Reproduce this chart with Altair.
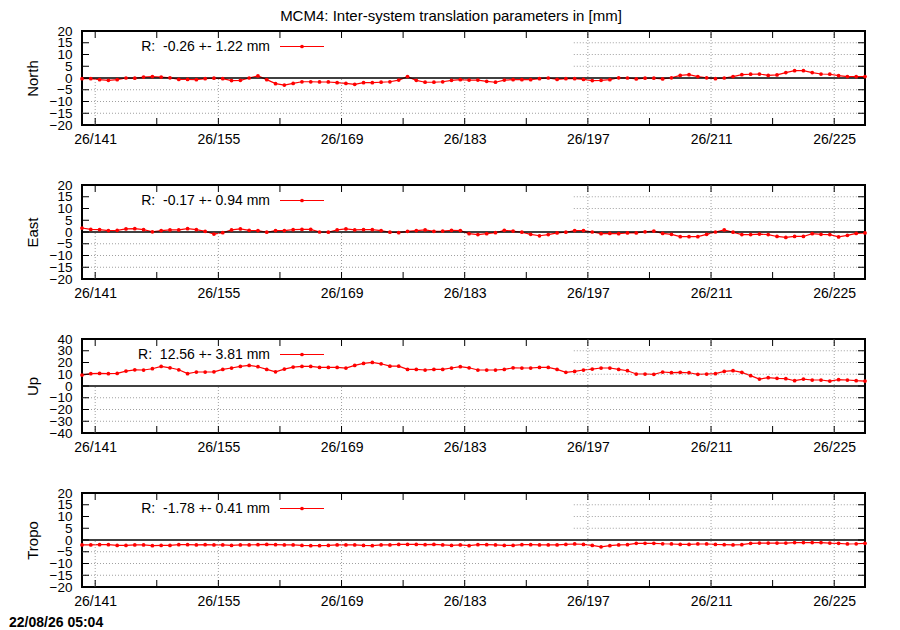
import altair as alt
import pandas as pd

# daily solutions, epoch at noon of each day of year
DOY = [139.5 + i for i in range(90)]

NORTH = [-0.3, -0.3, -0.7, -1.0, -0.7, 0.0, -0.1, 0.4, 0.6, 0.4,
         0.1, -0.6, -0.6, -0.7, -0.3, -0.1, -0.3, -1.1, -1.0, 0.0,
         0.9, -0.7, -2.4, -3.0, -2.3, -1.6, -1.6, -1.7, -1.7, -2.0,
         -2.3, -2.7, -2.0, -2.0, -1.8, -1.6, -0.9, 0.6, -1.0, -1.8,
         -1.8, -1.6, -1.0, -0.7, -0.9, -0.9, -1.4, -1.8, -0.9, -0.7,
         -0.7, -0.7, -0.3, 0.0, -0.6, -0.3, -0.3, -0.6, -1.1, -1.0,
         -0.7, 0.1, 0.0, -0.4, -0.1, -0.1, -0.4, 0.1, 1.1, 1.4,
         0.6, 0.1, -0.3, 0.0, 0.6, 1.4, 1.6, 1.7, 1.1, 1.3,
         2.3, 3.1, 3.1, 2.3, 1.7, 1.6, 1.0, 0.6, 0.6, 0.6]

EAST = [1.7, 1.1, 1.0, 0.6, 0.7, 1.3, 1.4, 1.0, 0.1, 0.6,
        0.9, 0.9, 1.4, 1.0, 0.3, -0.9, -0.3, 0.9, 1.3, 0.7,
        0.6, -0.1, 0.6, 0.6, 1.0, 1.1, 1.1, 0.0, -0.1, 0.9,
        1.3, 0.9, 1.0, 1.0, 0.6, -0.1, -0.3, 0.3, 0.6, 0.9,
        0.3, 0.4, 0.7, 0.6, -0.7, -1.1, -0.7, -0.3, 0.7, 0.4,
        -0.1, -1.0, -1.6, -1.1, -0.4, -0.1, 0.6, 0.6, 0.0, -0.7,
        -0.6, -0.7, -0.4, -0.4, 0.1, 0.4, -0.6, -1.0, -2.0, -2.0,
        -2.0, -1.0, 0.0, 0.9, -0.1, -1.1, -1.1, -0.9, -1.1, -1.9,
        -2.3, -1.9, -1.9, -0.7, -1.0, -1.1, -2.1, -1.4, -0.6, -0.4]

UP = [9.3, 10.5, 10.7, 10.5, 10.7, 12.7, 13.8, 13.6, 14.7, 16.7,
      15.5, 13.8, 10.5, 11.9, 11.9, 12.1, 14.1, 15.3, 16.7, 17.5,
      16.4, 14.1, 12.1, 14.4, 16.1, 16.7, 16.7, 15.8, 15.8, 15.8,
      15.3, 17.5, 19.2, 20.1, 18.9, 16.9, 16.9, 14.1, 14.1, 13.6,
      14.1, 14.1, 15.3, 16.4, 15.5, 13.6, 13.6, 13.6, 14.1, 15.5,
      15.3, 15.3, 15.8, 15.8, 14.1, 11.6, 12.4, 13.6, 14.4, 15.3,
      15.3, 14.1, 13.0, 10.2, 10.2, 9.9, 11.9, 11.3, 11.6, 11.3,
      9.9, 10.2, 10.5, 12.4, 13.0, 11.6, 8.8, 5.9, 7.1, 6.5,
      6.2, 4.5, 5.9, 5.1, 5.1, 4.2, 5.4, 5.1, 4.5, 4.2]

TROPO = [-2.1, -2.1, -2.0, -2.0, -2.3, -2.3, -2.1, -2.1, -2.4, -2.3,
         -2.3, -2.0, -2.0, -2.1, -2.0, -2.1, -2.1, -2.3, -2.1, -2.1,
         -2.0, -1.9, -2.0, -2.1, -2.1, -2.3, -2.4, -2.4, -2.3, -2.1,
         -2.1, -2.1, -2.3, -2.4, -2.1, -2.1, -1.9, -1.9, -1.9, -2.0,
         -1.9, -2.1, -2.3, -2.1, -2.4, -2.0, -2.0, -2.1, -2.3, -2.3,
         -2.0, -2.0, -2.1, -2.1, -2.1, -1.9, -1.7, -1.9, -2.3, -2.9,
         -2.4, -2.1, -2.0, -1.4, -1.4, -1.4, -1.6, -1.7, -1.9, -1.9,
         -1.7, -1.7, -1.9, -2.0, -2.1, -2.0, -1.4, -1.3, -1.3, -1.3,
         -1.3, -1.1, -1.1, -1.1, -1.1, -1.3, -1.4, -1.7, -1.6, -1.4]

PANELS = ["North", "East", "Up", "Tropo"]
SERIES = [NORTH, EAST, UP, TROPO]
LEGENDS = ["R:\u00a0 -0.26 +- 1.22 mm", "R:\u00a0 -0.17 +- 0.94 mm",
           "R:\u00a0 12.56 +- 3.81 mm", "R:\u00a0 -1.78 +- 0.41 mm"]
YLIMS = [20, 20, 40, 20]
YSTEPS = [5, 5, 10, 5]

TITLE = "MCM4: Inter-system translation parameters in [mm]"
STAMP = "22/08/26 05:04"

MAJOR = list(range(141, 226, 14))
MINOR = list(range(141, 226, 7))

FONT = "Liberation Sans"
W, H = 783, 94
X_MIN, X_MAX = 139.5, 228.5
KEY_RIGHT = 195.4   # the opaque key box hides the grid left of this day, above zero
TICK = 7
RED = "#ff0000"


def panel(i):
    name, values, legend = PANELS[i], SERIES[i], LEGENDS[i]
    ylim, ystep = YLIMS[i], YSTEPS[i]
    yticks = list(range(-ylim, ylim + 1, ystep))

    xs = alt.Scale(domain=[X_MIN, X_MAX], nice=False, zero=False)
    ys = alt.Scale(domain=[-ylim, ylim], nice=False)
    xaxis = alt.Axis(values=MAJOR, labelExpr="'26/' + datum.value", title=None)
    yaxis = alt.Axis(values=yticks, title=name)

    # every layer uses the same axis spec so the layer merge keeps them
    def X(f):
        return alt.X(f, scale=xs, axis=xaxis)

    def Y(f):
        return alt.Y(f, scale=ys, axis=yaxis)

    df = pd.DataFrame({"doy": DOY, "v": values})

    # grid segments (dotted), cut by the key box
    hgrid = pd.DataFrame([{"doy": KEY_RIGHT if t > 0 else X_MIN, "doy2": X_MAX, "v": t}
                          for t in yticks if abs(t) != ylim and t != 0])
    vgrid = pd.DataFrame([{"doy": d, "v": -ylim, "v2": 0 if d < KEY_RIGHT else ylim}
                          for d in MAJOR])
    grid_style = dict(color="#a0a0a0", strokeWidth=1, strokeDash=[1, 2])

    hg = alt.Chart(hgrid).mark_rule(**grid_style).encode(
        x=X("doy:Q"), x2="doy2:Q", y=Y("v:Q"))
    vg = alt.Chart(vgrid).mark_rule(**grid_style).encode(
        x=X("doy:Q"), y=Y("v:Q"), y2="v2:Q")

    zero = alt.Chart(pd.DataFrame({"v": [0]})).mark_rule(color="black", strokeWidth=1.3).encode(
        y=Y("v:Q"))

    # inward ticks on all four sides
    xt = pd.DataFrame({"doy": MINOR})
    yt = pd.DataFrame({"v": yticks})
    tick_style = dict(color="black", strokeWidth=1)
    bt = alt.Chart(xt).mark_rule(**tick_style).encode(
        x=X("doy:Q"), y=alt.value(H), y2=alt.value(H - TICK))
    tt = alt.Chart(xt).mark_rule(**tick_style).encode(
        x=X("doy:Q"), y=alt.value(0), y2=alt.value(TICK))
    lt = alt.Chart(yt).mark_rule(**tick_style).encode(
        y=Y("v:Q"), x=alt.value(0), x2=alt.value(TICK))
    rt = alt.Chart(yt).mark_rule(**tick_style).encode(
        y=Y("v:Q"), x=alt.value(W - TICK), x2=alt.value(W))

    line = alt.Chart(df).mark_line(color=RED, strokeWidth=1.2).encode(
        x=X("doy:Q"), y=Y("v:Q"))
    pts = alt.Chart(df).mark_circle(color=RED, size=14, opacity=1).encode(
        x=X("doy:Q"), y=Y("v:Q"))

    one = pd.DataFrame({"a": [0]})
    key_text = alt.Chart(one).mark_text(
        align="right", baseline="middle", font=FONT, fontSize=14, color="black").encode(
        x=alt.value(188), y=alt.value(15.5), text=alt.value(legend))
    key_line = alt.Chart(one).mark_rule(color=RED, strokeWidth=1.2).encode(
        x=alt.value(198), x2=alt.value(242), y=alt.value(15.5))
    key_pt = alt.Chart(one).mark_circle(color=RED, size=14, opacity=1).encode(
        x=alt.value(220), y=alt.value(15.5))

    layers = [line, hg, vg, zero, bt, tt, lt, rt, pts, key_text, key_line, key_pt]

    if i == 0:
        layers.append(alt.Chart(one).mark_text(
            align="center", baseline="top", font=FONT, fontSize=15, color="black").encode(
            x=alt.value(369), y=alt.value(-22), text=alt.value(TITLE)))
    if i == len(PANELS) - 1:
        layers.append(alt.Chart(one).mark_text(
            align="left", baseline="middle", font=FONT, fontSize=14,
            fontWeight="bold", color="black").encode(
            x=alt.value(-73), y=alt.value(H + 36), text=alt.value(STAMP)))

    return alt.layer(*layers).properties(width=W, height=H)


chart = alt.vconcat(*[panel(i) for i in range(len(PANELS))], spacing=60, bounds="flush").properties(
    padding={"left": 0, "top": 0, "right": 0, "bottom": 0},
    background="white",
).configure_view(
    stroke="black", strokeWidth=2
).configure_axis(
    ticks=False, domain=False, grid=False,
    labelFont=FONT, labelFontSize=13.5, labelColor="black",
    titleFont=FONT, titleFontSize=15, titleFontWeight="normal", titleColor="black",
    labelFlush=False,
).configure_axisX(
    labelPadding=7, labelFontSize=14,
).configure_axisY(
    labelPadding=10, titlePadding=9, labelOverlap=False,
)

chart.save("out.html", embed_options={"renderer": "svg", "actions": False})
